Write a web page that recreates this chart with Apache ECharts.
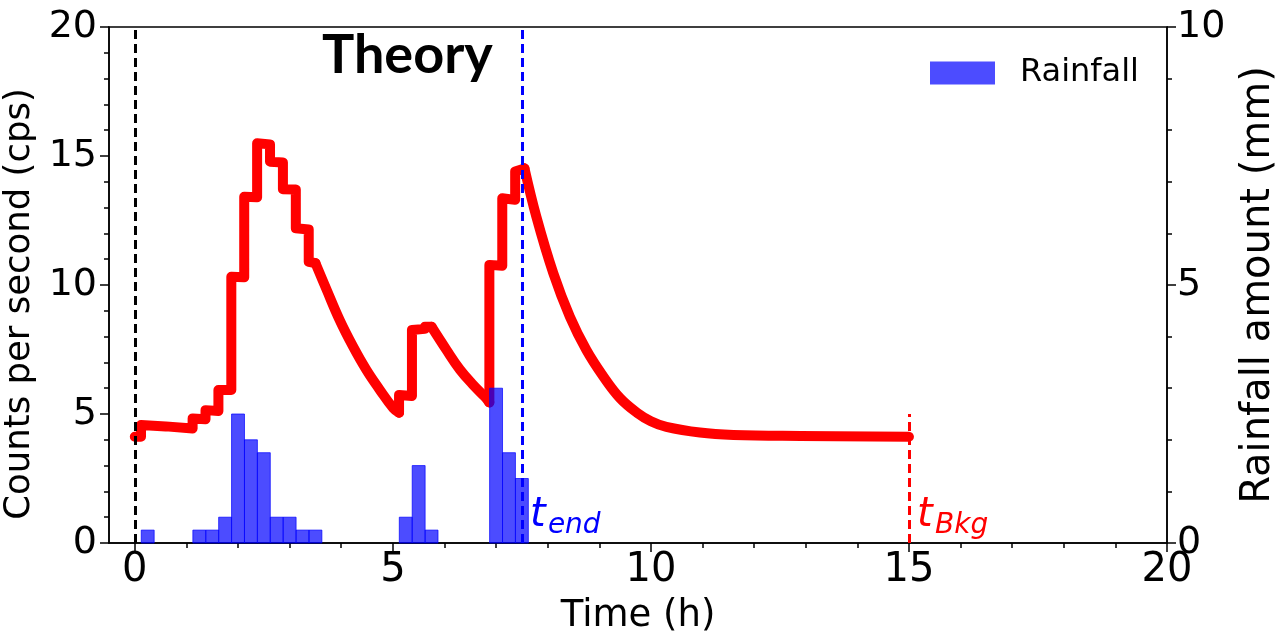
<!DOCTYPE html>
<html>
<head>
<meta charset="utf-8">
<script src="https://cdn.jsdelivr.net/npm/echarts@6/dist/echarts.min.js"></script>
<style>
  html, body { margin: 0; padding: 0; background: #fff; }
  #main { width: 1277px; height: 635px; }
</style>
</head>
<body>
<div id="main"></div>
<script>
// rainfall bars (15 min bins, centre time in h, amount in mm)
const rainTimes = [0.25, 1.25, 1.5, 1.75, 2.0, 2.25, 2.5, 2.75, 3.0, 3.25, 3.5, 5.25, 5.5, 5.75, 7.0, 7.25, 7.5]
const rainAmounts = [0.25, 0.25, 0.25, 0.5, 2.5, 2.0, 1.75, 0.5, 0.5, 0.25, 0.25, 0.5, 1.5, 0.25, 3.0, 1.75, 1.25]

// theoretical count rate (cps)
const countTimes = [0, 0.12, 0.12, 0.6, 1.12, 1.12, 1.37, 1.37, 1.62, 1.62, 1.87, 1.87, 2.12, 2.12,
  2.37, 2.37, 2.62, 2.62, 2.87, 2.87, 3.12, 3.12, 3.37, 3.37, 3.5, 3.72, 3.97, 4.23, 4.49, 4.75,
  5.01, 5.12, 5.12, 5.37, 5.37, 5.62, 5.62, 5.75, 6.04, 6.3, 6.56, 6.78, 6.87, 6.87, 7.12, 7.12,
  7.37, 7.37, 7.55, 7.78, 8.11, 8.43, 8.75, 9.08, 9.4, 9.73, 10.0, 10.3, 10.95, 11.6, 12.9, 15.0]
const countValues = [4.12, 4.12, 4.57, 4.52, 4.44, 4.83, 4.8, 5.15, 5.12, 5.93, 5.93, 10.32, 10.3, 13.42,
  13.4, 15.49, 15.45, 14.78, 14.75, 13.71, 13.7, 12.2, 12.15, 10.9, 10.85, 9.8, 8.64, 7.61, 6.7, 5.93,
  5.22, 5.05, 5.74, 5.7, 8.26, 8.3, 8.38, 8.38, 7.48, 6.72, 6.12, 5.67, 5.45, 10.78, 10.75, 13.36,
  13.3, 14.4, 14.52, 12.65, 10.45, 8.77, 7.48, 6.45, 5.62, 5.05, 4.72, 4.50, 4.28, 4.19, 4.15, 4.12]
// index ranges of the curve: step parts drawn straight, decay parts smoothed
const stepRanges = [[0, 24], [31, 37], [42, 48]]
const decayRanges = [[24, 31], [37, 42], [48, 61]]

const tEnd = 7.5
const tBkg = 15
const xMajorTicks = [0, 5, 10, 15, 20]
const xMinorTicks = [0, 1, 2, 3, 4, 5, 6, 7, 8, 9, 10, 11, 12, 13, 14, 15, 16, 17, 18, 19, 20]

const font = 'DejaVu Sans'
const barHalf = 0.125
const dash = [9, 5]

const chart = echarts.init(document.getElementById('main'))

const axisBase = {
  axisLine: { show: true, onZero: false, lineStyle: { color: '#000', width: 1.5 } },
  splitLine: { show: false },
  minorSplitLine: { show: false }
}

function curveSeries (range, smooth) {
  const data = []
  for (let i = range[0]; i <= range[1]; i++) data.push([countTimes[i], countValues[i]])
  return {
    type: 'line',
    xAxisIndex: 0,
    yAxisIndex: 0,
    data: data,
    smooth: smooth ? 0.4 : false,
    showSymbol: false,
    symbol: 'none',
    silent: true,
    z: 2,
    lineStyle: { color: '#ff0000', width: 10, join: 'round', cap: 'round' }
  }
}

const series = [
  {
    name: 'Markers',
    type: 'line',
    data: [],
    markLine: {
      silent: true,
      symbol: 'none',
      label: { show: false },
      data: [
        { xAxis: 0, lineStyle: { color: '#000', width: 3, type: dash } },
        { xAxis: tEnd, lineStyle: { color: '#0000ff', width: 3, type: dash } },
        [
          { coord: [tBkg, 0], lineStyle: { color: '#ff0000', width: 3, type: dash } },
          { coord: [tBkg, 5] }
        ]
      ]
    }
  }
]
stepRanges.forEach(r => series.push(curveSeries(r, false)))
decayRanges.forEach(r => series.push(curveSeries(r, true)))
series.push({
  name: 'Rainfall',
  type: 'custom',
  xAxisIndex: 0,
  yAxisIndex: 1,
  z: 3,
  itemStyle: { color: 'rgba(0,0,255,0.7)' },
  data: rainTimes.map((t, i) => [t, rainAmounts[i]]),
  encode: { x: 0, y: 1 },
  renderItem: function (params, api) {
    const x = api.value(0)
    const h = api.value(1)
    const p0 = api.coord([x - barHalf, h])
    const p1 = api.coord([x + barHalf, 0])
    return {
      type: 'rect',
      shape: { x: p0[0], y: p0[1], width: p1[0] - p0[0], height: p1[1] - p0[1] },
      style: { fill: 'rgba(0,0,255,0.7)', stroke: 'rgba(0,0,255,0.7)', lineWidth: 1 }
    }
  }
})

chart.setOption({
  animation: false,
  backgroundColor: '#fff',
  title: {
    text: 'Theory',
    left: 322,
    top: 29,
    padding: 0,
    textStyle: { fontFamily: 'Lato', fontWeight: 'bold', fontSize: 54, color: '#000' }
  },
  legend: {
    data: [{ name: 'Rainfall', icon: 'rect' }],
    left: 930,
    top: 57,
    padding: 0,
    itemWidth: 65,
    itemHeight: 23,
    textStyle: { fontFamily: font, fontSize: 32, color: '#000', padding: [0, 0, 0, 20] }
  },
  grid: {
    left: 109,
    right: 110,
    top: 27,
    bottom: 92,
    outerBoundsMode: 'none',
    containLabel: false,
    show: true,
    borderColor: '#000',
    borderWidth: 1.5
  },
  xAxis: [
    Object.assign({}, axisBase, {
      type: 'value',
      min: -0.5,
      max: 20,
      name: 'Time (h)',
      nameLocation: 'middle',
      nameGap: 55,
      nameTextStyle: { fontFamily: font, fontSize: 37, color: '#000' },
      axisTick: { show: true, length: 5, lineStyle: { color: '#000', width: 1.5 }, customValues: xMinorTicks },
      axisLabel: { fontFamily: font, fontSize: 40, color: '#000', margin: 8, customValues: xMajorTicks }
    }),
    {
      type: 'value',
      min: -0.5,
      max: 20,
      position: 'bottom',
      axisLine: { show: false, onZero: false },
      splitLine: { show: false },
      axisLabel: { show: false },
      axisTick: { show: true, length: 9, lineStyle: { color: '#000', width: 1.5 }, customValues: xMajorTicks }
    }
  ],
  yAxis: [
    Object.assign({}, axisBase, {
      type: 'value',
      min: 0,
      max: 20,
      interval: 5,
      name: 'Counts per second (cps)',
      nameLocation: 'middle',
      nameGap: 66,
      nameTextStyle: { fontFamily: font, fontSize: 35.5, color: '#000', padding: [0, 38, 0, 0] },
      axisTick: { show: true, length: 9, lineStyle: { color: '#000', width: 1.5 } },
      minorTick: { show: true, splitNumber: 5, length: 5, lineStyle: { color: '#000', width: 1.5 } },
      axisLabel: { fontFamily: font, fontSize: 38, color: '#000', margin: 12 }
    }),
    Object.assign({}, axisBase, {
      type: 'value',
      min: 0,
      max: 10,
      interval: 5,
      position: 'right',
      name: 'Rainfall amount (mm)',
      nameLocation: 'middle',
      nameRotate: 90,
      nameGap: 72,
      nameTextStyle: { fontFamily: font, fontSize: 40, color: '#000' },
      axisTick: { show: true, length: 9, lineStyle: { color: '#000', width: 1.5 } },
      minorTick: { show: true, splitNumber: 5, length: 5, lineStyle: { color: '#000', width: 1.5 } },
      axisLabel: { fontFamily: font, fontSize: 38, color: '#000', margin: 10 }
    })
  ],
  series: series
})

// t_end / t_Bkg annotations next to the dashed lines
const pEnd = chart.convertToPixel({ xAxisIndex: 0, yAxisIndex: 0 }, [tEnd, 0])
const pBkg = chart.convertToPixel({ xAxisIndex: 0, yAxisIndex: 0 }, [tBkg, 0])
function tLabel (p, sub, color) {
  return [
    {
      type: 'text',
      x: p[0] + 8,
      y: p[1] - 27,
      style: { text: 't', fill: color, fontFamily: font, fontStyle: 'italic', fontSize: 40, verticalAlign: 'middle' }
    },
    {
      type: 'text',
      x: p[0] + 26,
      y: p[1] - 17,
      style: { text: sub, fill: color, fontFamily: font, fontStyle: 'italic', fontSize: 28, verticalAlign: 'middle' }
    }
  ]
}
chart.setOption({
  graphic: tLabel(pEnd, 'end', '#0000ff').concat(tLabel(pBkg, 'Bkg', '#ff0000'))
})
</script>
</body>
</html>
